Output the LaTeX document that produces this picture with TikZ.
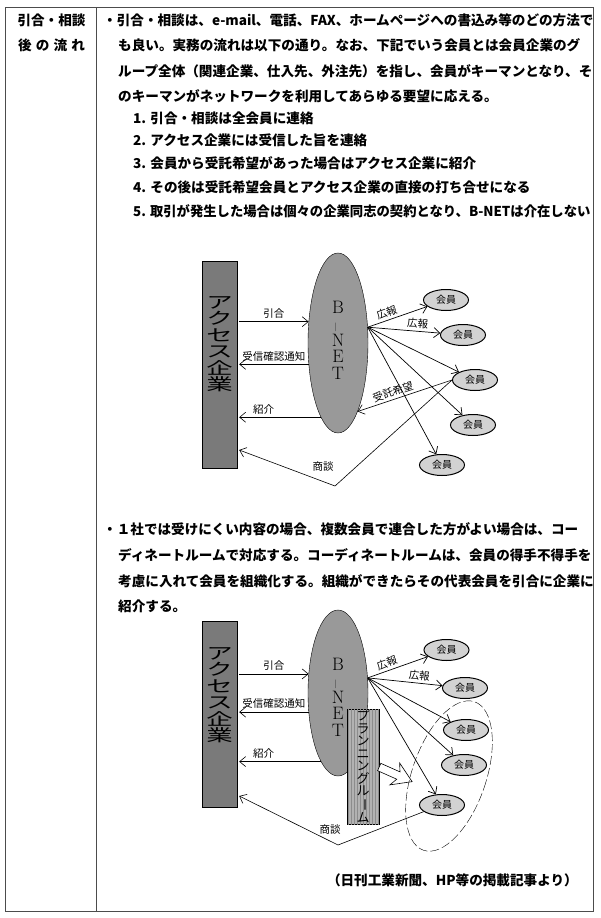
\documentclass[tikz,border=0pt]{standalone}
\usepackage{fontspec}
\newfontfamily\jp{Noto Sans CJK JP}
\usetikzlibrary{arrows.meta,shapes.geometric,patterns}

\newcommand{\wide}[1]{\scalebox{1.6}[1]{#1}}

\tikzset{
  body/.style={anchor=west, inner sep=0pt, text height=11.5pt, text depth=2.5pt,
    font=\jp\bfseries\fontsize{13.6}{16}\selectfont},
  lbl/.style={inner sep=1pt, font=\jp\fontsize{10.5}{12}\selectfont},
  arr/.style={-{Straight Barb[length=6pt,width=10pt]}, line width=0.6pt},
  kaiin/.style={draw, line width=1pt, ellipse, fill=gray!35, minimum width=45pt,
    minimum height=21pt, inner sep=0pt, font=\jp\fontsize{10}{12}\selectfont},
  company/.style={draw, fill=black!52, minimum width=35pt, inner sep=0pt, align=center,
    font=\jp\fontsize{16.5}{16.5}\selectfont},
  bnet/.style={draw, ellipse, fill=black!40, minimum width=60pt, inner sep=0pt},
  bnettext/.style={align=center, inner sep=0pt, font=\fontsize{18}{16.5}\selectfont},
  planroom/.style={draw, fill=black!30, minimum width=32pt, minimum height=115pt, inner sep=0pt,
    align=center, font=\jp\fontsize{13}{12.5}\selectfont,
    postaction={pattern=vertical lines, pattern color=black!45}},
}

\begin{document}
\begin{tikzpicture}[x=1pt, y=-1pt]
  \useasboundingbox (0,0) rectangle (600,918);
  \draw[line width=0.7pt, black!70] (5,7) rectangle (593,911);
  \draw[line width=0.7pt, black!70] (96,7) -- (96,911);

  \node[body, anchor=center] (h1) at (51.5,21) {引合・相談};
  \node[body, anchor=center] (h2) at (51.5,46) {\makebox[67pt][s]{後\hfill の\hfill 流\hfill れ}};

  \node[body] (p1) at (103,21) {・引合・相談は、e-mail、電話、FAX、ホームページへの書込み等のどの方法で};
  \node[body] (p2) at (118,46) {も良い。実務の流れは以下の通り。なお、下記でいう会員とは会員企業のグ};
  \node[body] (p3) at (118,72) {ループ全体（関連企業、仕入先、外注先）を指し、会員がキーマンとなり、そ};
  \node[body] (p4) at (118,97) {のキーマンがネットワークを利用してあらゆる要望に応える。};
  \node[body] (i1) at (133,119) {1. 引合・相談は全会員に連絡};
  \node[body] (i2) at (133,141) {2. アクセス企業には受信した旨を連絡};
  \node[body] (i3) at (133,164) {3. 会員から受託希望があった場合はアクセス企業に紹介};
  \node[body] (i4) at (133,188) {4. その後は受託希望会員とアクセス企業の直接の打ち合せになる};
  \node[body] (i5) at (133,212) {\scalebox{0.98}[1]{5. 取引が発生した場合は個々の企業同志の契約となり、B-NETは介在しない}};

  % first flow
  \node[company, minimum height=207pt] (acc1) at (219.5,364.5) {};
  \node[company, draw=none, fill=none] (acc1t) at (219.5,344) {\wide{ア}\\\wide{ク}\\\wide{セ}\\\wide{ス}\\\wide{企}\\\wide{業}};
  \node[bnet, minimum height=180pt] (bnet1) at (338,343) {};
  \node[bnettext] (bnet1t) at (338,340) {B\\\rotatebox[origin=c]{90}{--}\\N\\E\\T};
  \node[kaiin] (m11) at (446,300) {会員};
  \node[kaiin] (m12) at (463,335) {会員};
  \node[kaiin] (m13) at (475,380) {会員};
  \node[kaiin] (m14) at (473,425) {会員};
  \node[kaiin] (m15) at (442,465) {会員};
  \coordinate (hub1) at (bnet1.28);
  \coordinate (dip1) at (335,486);
  \draw[arr] (bnet1.144 -| acc1.east) ++(2,0) -- node[lbl, above=2pt] (l11) {引合} (bnet1.144);
  \draw[arr] (bnet1.216) -- node[lbl, above=2pt] (l12) {受信確認通知} ([xshift=2pt]bnet1.216 -| acc1.east);
  \draw[arr] (bnet1.257) -- node[lbl, above=2pt, pos=0.7] (l13) {紹介} ([xshift=2pt]bnet1.257 -| acc1.east);
  \draw[arr, line width=0.7pt] (hub1) -- node[lbl, above=1.5pt, sloped, pos=0.36] (l14) {広報} (m11);
  \draw[arr, line width=0.7pt] (hub1) -- node[lbl, above=1.5pt, sloped, pos=0.68] (l15) {広報} (m12);
  \draw[arr, line width=0.7pt] (hub1) -- (m13);
  \draw[arr, line width=0.7pt] (hub1) -- (m14);
  \draw[arr, line width=0.7pt] (hub1) -- (m15);
  \draw[arr] (m13.west) -- node[lbl, above=1.5pt, sloped, pos=0.6] (l16) {受託希望} (bnet1.-74);
  \draw[arr] (m13.west) -- (dip1) -- ([xshift=2pt,yshift=-85.5pt]acc1.east);
  \node[lbl] (l17) at (323,467) {商談};

  \node[body] (q1) at (103,530) {・１社では受けにくい内容の場合、複数会員で連合した方がよい場合は、コー};
  \node[body] (q2) at (118,556) {ディネートルームで対応する。コーディネートルームは、会員の得手不得手を};
  \node[body] (q3) at (118,582) {考慮に入れて会員を組織化する。組織ができたらその代表会員を引合に企業に};
  \node[body] (q4) at (118,607) {紹介する。};

  % second flow
  \node[company, minimum height=186pt] (acc2) at (219.5,714) {};
  \node[company, draw=none, fill=none] (acc2t) at (219.5,695) {\wide{ア}\\\wide{ク}\\\wide{セ}\\\wide{ス}\\\wide{企}\\\wide{業}};
  \node[bnet, minimum height=166pt] (bnet2) at (338,693) {};
  \node[bnettext] (bnet2t) at (338,697) {B\\\rotatebox[origin=c]{90}{--}\\N\\E\\T};
  \node[planroom] (plan) at (363,766.5) {プ\\ラ\\ン\\ニ\\ン\\グ\\ル\\\rotatebox[origin=c]{-90}{ー}\\ム};
  \draw[line width=0.6pt, fill=white, shift={(plan.east |- 0,767)}, rotate=-24]
    (0,-4) -- (21,-4) -- (17,-12) -- (36,0) -- (17,12) -- (21,4) -- (0,4) -- cycle;
  \node[kaiin] (m21) at (446.5,650) {会員};
  \node[kaiin] (m22) at (465,688) {会員};
  \node[kaiin] (m23) at (466,730) {会員};
  \node[kaiin] (m24) at (464,765) {会員};
  \node[kaiin] (m25) at (442,805) {会員};
  \coordinate (hub2) at (bnet2.27);
  \coordinate (dip2) at (338,845);
  \draw[arr] (bnet2.147 -| acc2.east) ++(2,0) -- node[lbl, above=2pt] (l21) {引合} (bnet2.147);
  \draw[arr] (bnet2.213) -- node[lbl, above=2pt] (l22) {受信確認通知} ([xshift=2pt]bnet2.213 -| acc2.east);
  \draw[arr] (bnet2.256) -- node[lbl, above=2pt, pos=0.7] (l23) {紹介} ([xshift=2pt]bnet2.256 -| acc2.east);
  \draw[arr, line width=0.7pt] (hub2) -- node[lbl, above=1.5pt, sloped, pos=0.36] (l24) {広報} (m21);
  \draw[arr, line width=0.7pt] (hub2) -- node[lbl, above=1.5pt, sloped, pos=0.68] (l25) {広報} (m22);
  \draw[arr, line width=0.7pt] (hub2) -- (m23);
  \draw[arr, line width=0.7pt] (hub2) -- (m24);
  \draw[arr, line width=0.7pt] (hub2) -- (m25);
  \draw[arr] (m25.200) -- (dip2) -- ([xshift=2pt,yshift=-82pt]acc2.east);
  \node[lbl] (l26) at (330,830) {商談};
  \node[draw, dash pattern=on 9pt off 3pt, ellipse, rotate=-19, minimum width=74pt,
    minimum height=157pt] (grp) at (449,776) {};

  \node[body, anchor=east] (src) at (578,881) {（日刊工業新聞、HP等の掲載記事より）};
\end{tikzpicture}
\end{document}
